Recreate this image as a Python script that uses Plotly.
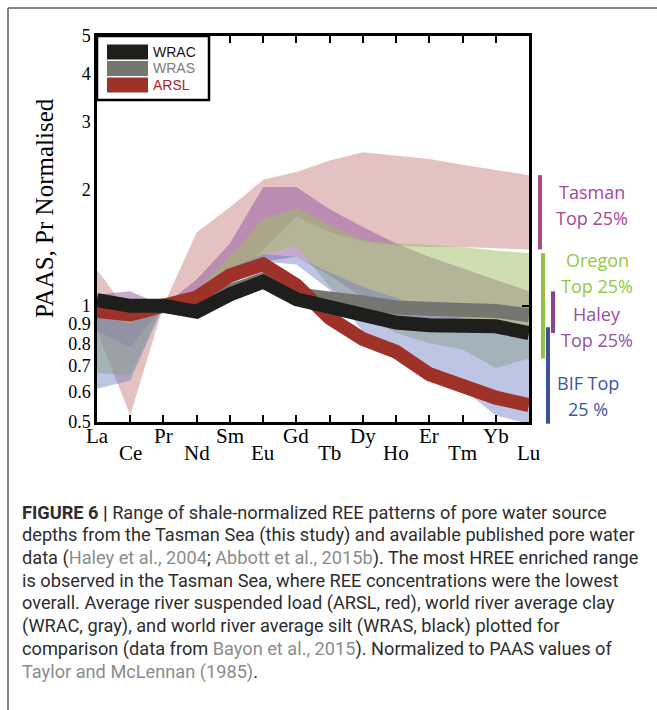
import numpy as np
import plotly.graph_objects as go

# Rare earth elements (Pm omitted), PAAS-normalised and scaled to Pr = 1
elements = ["La", "Ce", "Pr", "Nd", "Sm", "Eu", "Gd", "Tb", "Dy", "Ho", "Er", "Tm", "Yb", "Lu"]

# Reference sediment patterns
wrac = [1.035, 1.00, 1.00, 0.965, 1.07, 1.155, 1.04, 0.99, 0.955, 0.905, 0.89, 0.89, 0.885, 0.85]
wras = [1.03, 0.99, 1.00, 0.975, 1.09, 1.17, 1.07, 1.05, 1.02, 0.99, 0.975, 0.975, 0.97, 0.945]
arsl = [0.97, 0.95, 1.00, 1.05, 1.20, 1.28, 1.13, 0.93, 0.82, 0.76, 0.665, 0.615, 0.578, 0.553]

# Top-25% pore water ranges (upper / lower envelopes)
tasman_hi = [1.24, 0.95, 1.00, 1.55, 1.80, 2.12, 2.22, 2.38, 2.50, 2.45, 2.40, 2.32, 2.25, 2.18]
tasman_lo = [0.86, 0.52, 1.00, 1.00, 1.15, 1.40, 1.70, 1.55, 1.47, 1.43, 1.42, 1.42, 1.41, 1.40]
oregon_hi = [0.98, 0.92, 1.00, 1.10, 1.34, 1.68, 1.79, 1.62, 1.48, 1.45, 1.44, 1.42, 1.39, 1.37]
oregon_lo = [0.67, 0.66, 1.00, 1.00, 1.12, 1.35, 1.43, 1.12, 0.95, 0.85, 0.80, 0.77, 0.69, 0.73]
haley_hi = [1.07, 1.09, 1.00, 1.17, 1.45, 2.03, 2.03, 1.78, 1.60, 1.45, 1.34, 1.25, 1.17, 1.09]
haley_lo = [0.86, 0.78, 1.00, 1.02, 1.15, 1.30, 1.34, 1.20, 1.05, 0.95, 0.90, 0.87, 0.86, 0.85]
bif_hi = [0.95, 0.90, 1.00, 1.10, 1.25, 1.36, 1.34, 1.22, 1.12, 1.05, 0.98, 0.93, 0.88, 0.88]
bif_lo = [0.61, 0.64, 1.00, 1.00, 1.12, 1.30, 1.28, 1.10, 0.86, 0.76, 0.68, 0.61, 0.52, 0.495]

y_ticks = [0.5, 0.6, 0.7, 0.8, 0.9, 1, 2, 3, 4, 5]
y_tick_text = ["0.5", "0.6", "0.7", "0.8", "0.9", "1", "2", "3", "4", "5"]

W, H = 657, 710
L, R, T, B = 97, 128, 36, 288
PW, PH = W - L - R, H - T - B
YMIN, YMAX = np.log10(0.5), np.log10(5)


def px(x):
    return (x - L) / PW


def py(y):
    return (H - B - y) / PH


def pv(v):
    # paper height of a value on the log axis
    return (np.log10(v) - YMIN) / (YMAX - YMIN)


fig = go.Figure()

ranges = [
    ("Tasman", tasman_hi, tasman_lo, "rgba(195,120,120,0.45)"),
    ("Haley", haley_hi, haley_lo, "rgba(145,85,160,0.5)"),
    ("Oregon", oregon_hi, oregon_lo, "rgba(160,190,100,0.5)"),
    ("BIF", bif_hi, bif_lo, "rgba(110,125,195,0.45)"),
]
for name, hi, lo, col in ranges:
    fig.add_trace(go.Scatter(
        x=elements + elements[::-1], y=hi + lo[::-1],
        fill="toself", fillcolor=col, line=dict(width=0),
        mode="lines", name=name, showlegend=False, hoverinfo="skip"))

for name, vals, col in [("WRAS", wras, "rgb(118,118,112)"),
                        ("ARSL", arsl, "rgb(158,50,40)"),
                        ("WRAC", wrac, "rgb(30,30,28)")]:
    fig.add_trace(go.Scatter(x=elements, y=vals, mode="lines", name=name,
                             line=dict(color=col, width=14), showlegend=False))

# invisible trace to carry the right-hand y axis (tick at 1)
fig.add_trace(go.Scatter(x=[elements[0]], y=[1], yaxis="y2", mode="markers",
                         marker=dict(opacity=0), showlegend=False, hoverinfo="skip"))

serif = "Liberation Serif, Times New Roman, serif"
yr = [YMIN, YMAX]
fig.update_layout(
    width=W, height=H, margin=dict(l=L, r=R, t=T, b=B),
    paper_bgcolor="white", plot_bgcolor="white", showlegend=False,
    xaxis=dict(type="category", range=[0, len(elements) - 1], showgrid=False,
               showline=True, linecolor="black", linewidth=2.5, mirror="ticks",
               ticks="inside", ticklen=7, tickwidth=2, tickcolor="black",
               showticklabels=False, zeroline=False),
    yaxis=dict(type="log", range=yr, showgrid=False, showline=True,
               linecolor="black", linewidth=2.5, mirror=True, ticks="",
               tickvals=y_ticks, ticktext=y_tick_text,
               tickfont=dict(family=serif, size=18, color="black"),
               zeroline=False),
    yaxis2=dict(type="log", range=yr, overlaying="y", side="right",
                showgrid=False, tickvals=[1], ticks="inside", ticklen=7,
                tickwidth=2, tickcolor="black", showticklabels=False,
                showline=False, zeroline=False),
)

ann = []
# element labels in two staggered rows
for i, el in enumerate(elements):
    ann.append(dict(x=el, xref="x", y=py(436 if i % 2 == 0 else 453), yref="paper",
                    text=el, showarrow=False, xanchor="center", yanchor="middle",
                    font=dict(family=serif, size=21, color="black")))

ann.append(dict(x=px(44), y=py(208), xref="paper", yref="paper",
                text="PAAS, Pr Normalised", textangle=-90, showarrow=False,
                xanchor="center", yanchor="middle",
                font=dict(family=serif, size=25, color="black")))

shapes = []
# legend box
shapes.append(dict(type="rect", xref="paper", yref="paper", x0=px(97), x1=px(209),
                   y0=py(100), y1=py(36), line=dict(color="black", width=2.5),
                   fillcolor="white", layer="above"))
for (name, col, tcol, yc) in [("WRAC", "rgb(30,30,28)", "rgb(20,20,20)", 52),
                              ("WRAS", "rgb(118,118,112)", "rgb(125,125,125)", 68.5),
                              ("ARSL", "rgb(158,50,40)", "rgb(170,35,35)", 85)]:
    shapes.append(dict(type="rect", xref="paper", yref="paper", x0=px(107), x1=px(148),
                       y0=py(yc + 7.5), y1=py(yc - 7.5), line=dict(width=0),
                       fillcolor=col, layer="above"))
    ann.append(dict(x=px(151), y=py(yc), xref="paper", yref="paper", text=name,
                    showarrow=False, xanchor="left", yanchor="middle",
                    font=dict(family="Liberation Sans, Arial, sans-serif", size=14, color=tcol)))

# range bars spanning each envelope at Lu, with their labels
sans = "Open Sans, sans-serif"
bars = [
    (tasman_hi, tasman_lo, 540, "rgb(165,75,140)", ["Tasman", "Top 25%"], 592, [192, 218], "rgb(170,70,150)"),
    (oregon_hi, oregon_lo, 543, "rgb(150,195,70)", ["Oregon", "Top 25%"], 597, [260, 286], "rgb(150,200,60)"),
    (haley_hi, haley_lo, 553, "rgb(140,65,145)", ["Haley", "Top 25%"], 597, [314, 340], "rgb(150,80,160)"),
    (bif_hi, bif_lo, 548, "rgb(60,80,160)", ["BIF Top", "25 %"], 588, [383, 409], "rgb(65,85,165)"),
]
for hi, lo, bx, bcol, lines, tx, tys, tcol in bars:
    shapes.append(dict(type="line", xref="paper", yref="paper", x0=px(bx), x1=px(bx),
                       y0=pv(lo[-1]), y1=pv(hi[-1]),
                       line=dict(color=bcol, width=4)))
    for txt, ty in zip(lines, tys):
        ann.append(dict(x=px(tx), y=py(ty), xref="paper", yref="paper", text=txt,
                        showarrow=False, xanchor="center", yanchor="middle",
                        font=dict(family=sans, size=18, color=tcol)))

# figure frame
shapes.append(dict(type="line", xref="paper", yref="paper", x0=px(8), x1=px(660),
                   y0=py(8), y1=py(8), line=dict(color="rgb(90,90,90)", width=1.5)))
shapes.append(dict(type="line", xref="paper", yref="paper", x0=px(8), x1=px(8),
                   y0=py(8), y1=py(715), line=dict(color="rgb(90,90,90)", width=1.5)))

# caption
g = "<span style='color:rgb(140,140,140)'>{}</span>"
caption = [
    "<b>FIGURE 6 |</b> Range of shale-normalized REE patterns of pore water source",
    "depths from the Tasman Sea (this study) and available published pore water",
    "data (" + g.format("Haley et al., 2004") + "; " + g.format("Abbott et al., 2015b")
    + "). The most HREE enriched range",
    "is observed in the Tasman Sea, where REE concentrations were the lowest",
    "overall. Average river suspended load (ARSL, red), world river average clay",
    "(WRAC, gray), and world river average silt (WRAS, black) plotted for",
    "comparison (data from " + g.format("Bayon et al., 2015") + "). Normalized to PAAS values of",
    g.format("Taylor and McLennan (1985)") + ".",
]
for k, line in enumerate(caption):
    ann.append(dict(x=px(20), y=py(512 + 22.8 * k), xref="paper", yref="paper",
                    text=line, showarrow=False, xanchor="left", yanchor="middle",
                    font=dict(family="Roboto, sans-serif", size=18.2, color="rgb(45,45,45)")))

fig.update_layout(annotations=ann, shapes=shapes)
fig.write_html("out.html")
